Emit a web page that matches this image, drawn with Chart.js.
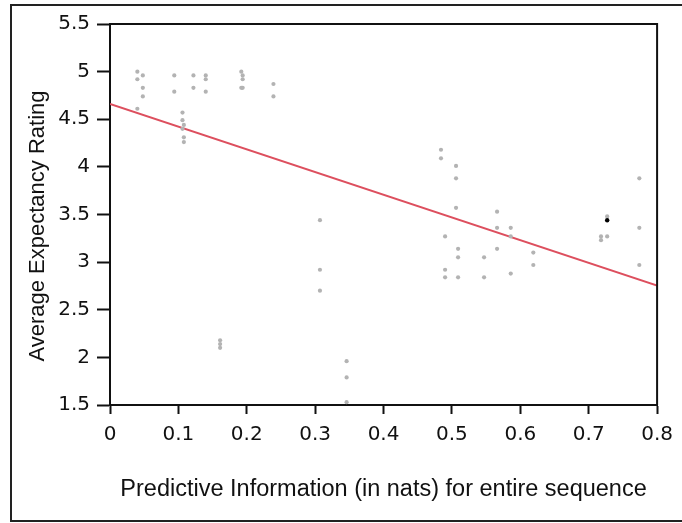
<!DOCTYPE html>
<html>
<head>
<meta charset="utf-8">
<script src="https://cdn.jsdelivr.net/npm/chart.js@4/dist/chart.umd.min.js"></script>
<style>
  html, body { margin: 0; padding: 0; background: #fff; }
  #wrap { width: 682px; height: 523px; }
</style>
</head>
<body>
<div id="wrap"><canvas id="c" width="682" height="523"></canvas></div>
<script>
// ---- data ----
const pointX = [
  0.040, 0.048, 0.040, 0.048, 0.048, 0.040,
  0.094, 0.094,
  0.106, 0.106, 0.108, 0.106, 0.108, 0.108,
  0.122, 0.122,
  0.140, 0.140, 0.140,
  0.161, 0.161, 0.161,
  0.192, 0.194, 0.194, 0.192, 0.194,
  0.239, 0.239,
  0.307, 0.307, 0.307,
  0.346, 0.346, 0.346,
  0.484, 0.484,
  0.490, 0.490, 0.490,
  0.506, 0.506, 0.506,
  0.509, 0.509, 0.509,
  0.547, 0.547,
  0.566, 0.566, 0.566,
  0.586, 0.586, 0.586,
  0.619, 0.619,
  0.718, 0.718,
  0.727, 0.727,
  0.774, 0.774, 0.774
];
const pointY = [
  5.00, 4.96, 4.92, 4.83, 4.74, 4.61,
  4.96, 4.79,
  4.57, 4.49, 4.44, 4.40, 4.31, 4.26,
  4.96, 4.83,
  4.96, 4.92, 4.79,
  2.18, 2.14, 2.10,
  5.00, 4.96, 4.92, 4.83, 4.83,
  4.87, 4.74,
  3.44, 2.92, 2.70,
  1.96, 1.79, 1.53,
  4.18, 4.09,
  3.27, 2.92, 2.84,
  4.01, 3.88, 3.57,
  3.14, 3.05, 2.84,
  3.05, 2.84,
  3.53, 3.36, 3.14,
  3.36, 3.27, 2.88,
  3.10, 2.97,
  3.27, 3.23,
  3.48, 3.27,
  3.88, 3.36, 2.97
];
const highlightX = [0.727];
const highlightY = [3.44];
const fitX = [0, 0.8];
const fitY = [4.66, 2.755];
const xTickLabels = ["0", "0.1", "0.2", "0.3", "0.4", "0.5", "0.6", "0.7", "0.8"];
const yTickLabels = ["1.5", "2", "2.5", "3", "3.5", "4", "4.5", "5", "5.5"];
const xTitle = "Predictive Information (in nats) for entire sequence";
const yTitle = "Average Expectancy Rating";

// ---- build ----
const toPts = (xs, ys) => xs.map((x, i) => ({ x: x, y: ys[i] }));
const AXIS = '#111';
const tickFont = { family: "'DejaVu Sans', sans-serif", size: 20 };
const titleFont = { family: "'Liberation Sans', Arial, sans-serif", size: 23.5 };

const frame = {
  id: 'frame',
  beforeDraw(chart) {
    const ctx = chart.ctx;
    ctx.save();
    ctx.fillStyle = '#fff';
    ctx.fillRect(0, 0, chart.width, chart.height);
    ctx.strokeStyle = '#222';
    ctx.lineWidth = 2;
    ctx.strokeRect(11, 5, 700, 516);
    ctx.restore();
  },
  afterDatasetsDraw(chart) {
    const a = chart.chartArea;
    const ctx = chart.ctx;
    ctx.save();
    ctx.strokeStyle = AXIS;
    ctx.lineWidth = 2;
    ctx.beginPath();
    ctx.moveTo(a.left, a.top);
    ctx.lineTo(a.right, a.top);
    ctx.lineTo(a.right, a.bottom);
    ctx.stroke();
    ctx.restore();
  }
};

const yTitlePlugin = {
  id: 'ytitle',
  afterDraw(chart) {
    const ctx = chart.ctx;
    ctx.save();
    ctx.translate(38, 226);
    ctx.rotate(-Math.PI / 2);
    ctx.fillStyle = '#111';
    ctx.font = "22px 'Liberation Sans', Arial, sans-serif";
    ctx.textAlign = 'center';
    ctx.textBaseline = 'middle';
    ctx.fillText(yTitle, 0, 0);
    ctx.restore();
  }
};

new Chart(document.getElementById('c'), {
  data: {
    datasets: [
      {
        type: 'scatter',
        data: toPts(highlightX, highlightY),
        backgroundColor: '#000',
        borderWidth: 0,
        pointRadius: 2.2,
        order: 0
      },
      {
        type: 'scatter',
        data: toPts(pointX, pointY),
        backgroundColor: '#b3b3b3',
        borderWidth: 0,
        pointRadius: 2.1,
        order: 1
      },
      {
        type: 'line',
        data: toPts(fitX, fitY),
        borderColor: '#dd4f5e',
        borderWidth: 2,
        pointRadius: 0,
        fill: false,
        order: 2
      }
    ]
  },
  options: {
    responsive: false,
    animation: false,
    devicePixelRatio: 1,
    layout: { padding: { top: 24, right: 23, left: 0, bottom: 0 } },
    plugins: { legend: { display: false }, tooltip: { enabled: false } },
    scales: {
      x: {
        type: 'linear',
        min: 0, max: 0.8,
        afterFit(s) { s.height = 118; },
        ticks: {
          stepSize: 0.1,
          color: '#111',
          font: tickFont,
          padding: 9,
          maxRotation: 0,
          callback: (v, i) => xTickLabels[i]
        },
        grid: { drawOnChartArea: false, drawTicks: true, tickLength: 9, tickWidth: 2, tickColor: AXIS },
        border: { display: true, color: AXIS, width: 2 },
        title: { display: true, text: xTitle, color: '#111', font: titleFont, padding: { top: 0, bottom: 19 } }
      },
      y: {
        type: 'linear',
        min: 1.5, max: 5.5,
        afterFit(s) { s.width = 110; },
        ticks: {
          stepSize: 0.5,
          color: '#111',
          font: tickFont,
          padding: 7,
          callback: (v, i) => yTickLabels[i]
        },
        grid: { drawOnChartArea: false, drawTicks: true, tickLength: 13, tickWidth: 2, tickColor: AXIS },
        border: { display: true, color: AXIS, width: 2 },
        title: { display: false }
      }
    }
  },
  plugins: [frame, yTitlePlugin]
});
</script>
</body>
</html>
